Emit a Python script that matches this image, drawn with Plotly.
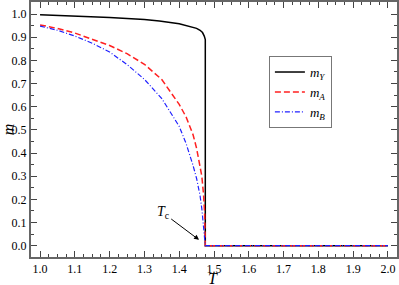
import plotly.graph_objects as go

# Values
T_A = [1.00, 1.05, 1.10, 1.15, 1.20, 1.25, 1.30, 1.35, 1.40, 1.42, 1.44, 1.45, 1.46, 1.465, 1.47, 1.473, 1.475, 1.50, 2.00]
m_A = [0.953, 0.938, 0.918, 0.892, 0.864, 0.829, 0.783, 0.717, 0.610, 0.555, 0.478, 0.420, 0.345, 0.300, 0.220, 0.140, 0.0, 0.0, 0.0]

T_B = [1.00, 1.05, 1.10, 1.15, 1.20, 1.25, 1.30, 1.35, 1.40, 1.42, 1.44, 1.45, 1.46, 1.465, 1.47, 1.475, 1.50, 2.00]
m_B = [0.948, 0.930, 0.905, 0.874, 0.836, 0.782, 0.718, 0.635, 0.515, 0.440, 0.345, 0.290, 0.215, 0.160, 0.080, 0.0, 0.0, 0.0]

T_Y = [1.00, 1.10, 1.20, 1.30, 1.343, 1.40, 1.429, 1.45, 1.46, 1.467, 1.472, 1.475, 1.475, 1.50, 2.00]
m_Y = [0.997, 0.992, 0.985, 0.976, 0.970, 0.958, 0.948, 0.938, 0.930, 0.920, 0.905, 0.890, 0.0, 0.0, 0.0]

x_ticks = [1.0, 1.1, 1.2, 1.3, 1.4, 1.5, 1.6, 1.7, 1.8, 1.9, 2.0]
y_ticks = [0.0, 0.1, 0.2, 0.3, 0.4, 0.5, 0.6, 0.7, 0.8, 0.9, 1.0]

FONT = "Times New Roman, Liberation Serif, DejaVu Serif, serif"

fig = go.Figure()
fig.add_trace(go.Scatter(x=T_Y, y=m_Y, mode="lines", name="<i>m</i><sub><i>Y</i></sub>",
                         line=dict(color="black", width=1.5)))
fig.add_trace(go.Scatter(x=T_A, y=m_A, mode="lines", name="<i>m</i><sub><i>A</i></sub>",
                         line=dict(color="#ff2020", width=1.5, dash="6px,3px")))
fig.add_trace(go.Scatter(x=T_B, y=m_B, mode="lines", name="<i>m</i><sub><i>B</i></sub>",
                         line=dict(color="#2020ff", width=1.2, dash="5px,2px,1px,2px")))

fig.add_annotation(x=1.457, y=0.025, ax=1.354, ay=0.141, axref="x", ayref="y",
                   text="<i>T</i><sub>c</sub>", showarrow=True, arrowhead=2, arrowsize=1,
                   arrowwidth=1, arrowcolor="black", standoff=0,
                   font=dict(family=FONT, size=14, color="black"))

# x-axis title as text below the tick labels
fig.add_annotation(x=0.497, y=-0.084, xref="paper", yref="paper", xanchor="center", yanchor="middle",
                   text="<i>T</i>", showarrow=False,
                   font=dict(family=FONT, size=16, color="black"))

axis_common = dict(
    showline=True, linecolor="#666666", linewidth=2, mirror="allticks",
    ticks="inside", ticklen=6, tickwidth=1, tickcolor="#444444",
    showgrid=False, zeroline=False, automargin=False,
    tickfont=dict(family=FONT, size=12, color="black"),
)

fig.update_xaxes(range=[0.974, 2.026], tickvals=x_ticks, ticktext=[f"{v:.1f}" for v in x_ticks],
                 minor=dict(ticks="inside", ticklen=3, dtick=0.025, tick0=1.0, tickcolor="#444444"),
                 **axis_common)
fig.update_yaxes(range=[-0.049, 1.052], tickvals=y_ticks, ticktext=[f"{v:.1f}" for v in y_ticks],
                 minor=dict(ticks="inside", ticklen=3, dtick=0.05, tick0=0.0, tickcolor="#444444"),
                 title=dict(text="<i>m</i>", font=dict(family=FONT, size=16, color="black"), standoff=2),
                 **axis_common)

fig.update_layout(
    width=399, height=285,
    margin=dict(l=31, r=2, t=2, b=28),
    plot_bgcolor="white", paper_bgcolor="white",
    legend=dict(x=0.65, y=0.788, xanchor="left", yanchor="top",
                bordercolor="#777777", borderwidth=1, bgcolor="white",
                font=dict(family=FONT, size=13, color="black"),
                tracegroupgap=0, itemwidth=30),
)

fig.write_html("out.html", config={"displayModeBar": False},
               post_script="document.body.style.margin='0';document.body.style.overflow='hidden';")
